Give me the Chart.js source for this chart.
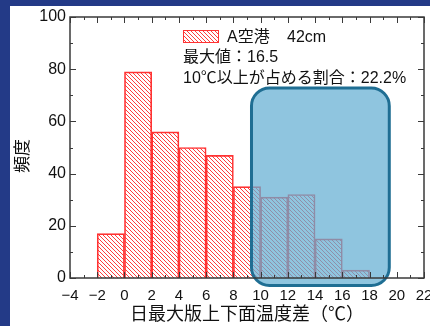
<!DOCTYPE html>
<html>
<head>
<meta charset="utf-8">
<script src="https://cdn.jsdelivr.net/npm/chart.js@4"></script>
<style>
    html, body { margin: 0; padding: 0; background: #233a87; }
    #wrap { width: 430px; height: 326px; position: relative; }
</style>
</head>
<body>
<div id="wrap"><canvas id="myChart" width="430" height="326"></canvas></div>
<script>
// histogram bins (centre of each 2℃ bin) and counts
const binCenters = [-1, 1, 3, 5, 7, 9, 11, 13, 15, 17];
const counts = [17, 79, 56, 50, 47, 35, 31, 32, 15, 3];

const xTicks = [-4, -2, 0, 2, 4, 6, 8, 10, 12, 14, 16, 18, 20, 22];
const yTicks = [0, 20, 40, 60, 80, 100];

const legendName = "A空港";
const legendValue = "42cm";
const infoLines = ["最大値：16.5", "10℃以上が占める割合：22.2%"];

// highlighted region (>=10℃), in axis units
const highlightX = [9.33, 19.45];
const highlightY = [-2.9, 72.8];

const FONT = "'Liberation Sans', 'Noto Sans CJK JP', sans-serif";
const JP_FONT = "'Noto Sans CJK JP', 'Liberation Sans', sans-serif";

function makeHatch(color) {
    const c = document.createElement("canvas");
    c.width = 4;
    c.height = 4;
    const g = c.getContext("2d");
    g.strokeStyle = color;
    g.lineWidth = 1;
    g.beginPath();
    g.moveTo(-1, -1); g.lineTo(5, 5);
    g.moveTo(-1, 3); g.lineTo(1, 5);
    g.moveTo(3, -1); g.lineTo(5, 1);
    g.stroke();
    return document.getElementById("myChart").getContext("2d").createPattern(c, "repeat");
}

const hatch = makeHatch("rgba(255, 40, 40, 0.9)");

const framePlugin = {
    id: "frame",
    beforeDraw(chart) {
        const ctx = chart.ctx;
        ctx.save();
        ctx.fillStyle = "#233a87";
        ctx.fillRect(0, 0, chart.width, chart.height);
        ctx.fillStyle = "#ffffff";
        ctx.fillRect(10, 6, chart.width - 10, chart.height - 6);
        ctx.restore();
    },
    afterDatasetsDraw(chart) {
        const ctx = chart.ctx;
        const xs = chart.scales.x, ys = chart.scales.y;
        // highlight box
        const l = xs.getPixelForValue(highlightX[0]);
        const r = xs.getPixelForValue(highlightX[1]);
        const t = ys.getPixelForValue(highlightY[1]);
        const b = ys.getPixelForValue(highlightY[0]);
        ctx.save();
        ctx.beginPath();
        ctx.roundRect(l, t, r - l, b - t, 18);
        ctx.fillStyle = "rgba(100, 175, 210, 0.72)";
        ctx.fill();
        ctx.lineWidth = 3;
        ctx.strokeStyle = "#1f6e93";
        ctx.stroke();
        ctx.restore();
    },
    afterDraw(chart) {
        const ctx = chart.ctx;
        const a = chart.chartArea;
        const xs = chart.scales.x, ys = chart.scales.y;
        ctx.save();
        ctx.strokeStyle = "#3a3a3a";
        ctx.lineWidth = 1.5;
        ctx.strokeRect(a.left, a.top, a.right - a.left, a.bottom - a.top);
        ctx.lineWidth = 1;
        ctx.beginPath();
        for (let v = xs.min; v <= xs.max; v++) {
            const px = Math.round(xs.getPixelForValue(v)) + 0.5;
            const len = v % 2 === 0 ? 6 : 3;
            ctx.moveTo(px, a.bottom); ctx.lineTo(px, a.bottom - len);
            ctx.moveTo(px, a.top); ctx.lineTo(px, a.top + len);
        }
        for (let v = ys.min; v <= ys.max; v += 10) {
            const py = Math.round(ys.getPixelForValue(v)) + 0.5;
            const len = v % 20 === 0 ? 6 : 3;
            ctx.moveTo(a.left, py); ctx.lineTo(a.left + len, py);
            ctx.moveTo(a.right, py); ctx.lineTo(a.right - len, py);
        }
        ctx.stroke();

        // legend
        ctx.fillStyle = hatch;
        ctx.fillRect(183, 30, 36, 13);
        ctx.strokeStyle = "#ff3333";
        ctx.strokeRect(183.5, 30.5, 35, 12);
        ctx.fillStyle = "#111";
        ctx.font = "16px " + FONT;
        ctx.textBaseline = "middle";
        ctx.textAlign = "left";
        ctx.fillText(legendName, 227, 38);
        ctx.fillText(legendValue, 287, 38);
        ctx.fillText(infoLines[0], 183, 58);
        ctx.fillText(infoLines[1], 183, 79);
        ctx.restore();
    },
};

const ctx = document.getElementById("myChart").getContext("2d");
const myChart = new Chart(ctx, {
    type: "bar",
    data: {
        datasets: [
            {
                label: legendName,
                data: binCenters.map((x, i) => ({ x: x, y: counts[i] })),
                backgroundColor: hatch,
                borderColor: "#ff3333",
                borderWidth: 1,
                barPercentage: 1,
                categoryPercentage: 1,
            },
        ],
    },
    options: {
        responsive: false,
        animation: false,
        layout: { padding: { left: 10, top: 17, right: 6, bottom: 0 } },
        plugins: { legend: { display: false }, tooltip: { enabled: false } },
        scales: {
            x: {
                type: "linear",
                offset: false,
                min: -4,
                max: 22,
                grid: { display: false, drawTicks: false },
                border: { display: false },
                afterBuildTicks: (scale) => {
                    scale.ticks = xTicks.map((v) => ({ value: v }));
                },
                afterFit: (scale) => {
                    scale.height = 48;
                    scale.paddingLeft = 0;
                    scale.paddingRight = 0;
                },
                ticks: {
                    autoSkip: false,
                    maxRotation: 0,
                    padding: 9,
                    color: "#111",
                    font: { family: FONT, size: 15 },
                    callback: (v) => (v < 0 ? "\u2212" + Math.abs(v) : String(v)),
                },
                title: {
                    display: true,
                    text: "日最大版上下面温度差（℃）",
                    color: "#111",
                    font: { family: JP_FONT, size: 18 },
                    padding: { top: 0, bottom: 2 },
                },
            },
            y: {
                min: 0,
                max: 100,
                grid: { display: false, drawTicks: false },
                border: { display: false },
                afterBuildTicks: (scale) => {
                    scale.ticks = yTicks.map((v) => ({ value: v }));
                },
                afterFit: (scale) => {
                    scale.width = 60;
                    scale.paddingTop = 0;
                    scale.paddingBottom = 0;
                },
                ticks: {
                    padding: 4,
                    color: "#111",
                    font: { family: FONT, size: 16 },
                },
                title: {
                    display: true,
                    text: "頻度\u3000",
                    color: "#111",
                    font: { family: JP_FONT, size: 17 },
                    padding: { top: 1, bottom: 0 },
                },
            },
        },
    },
    plugins: [framePlugin],
});
</script>
</body>
</html>
